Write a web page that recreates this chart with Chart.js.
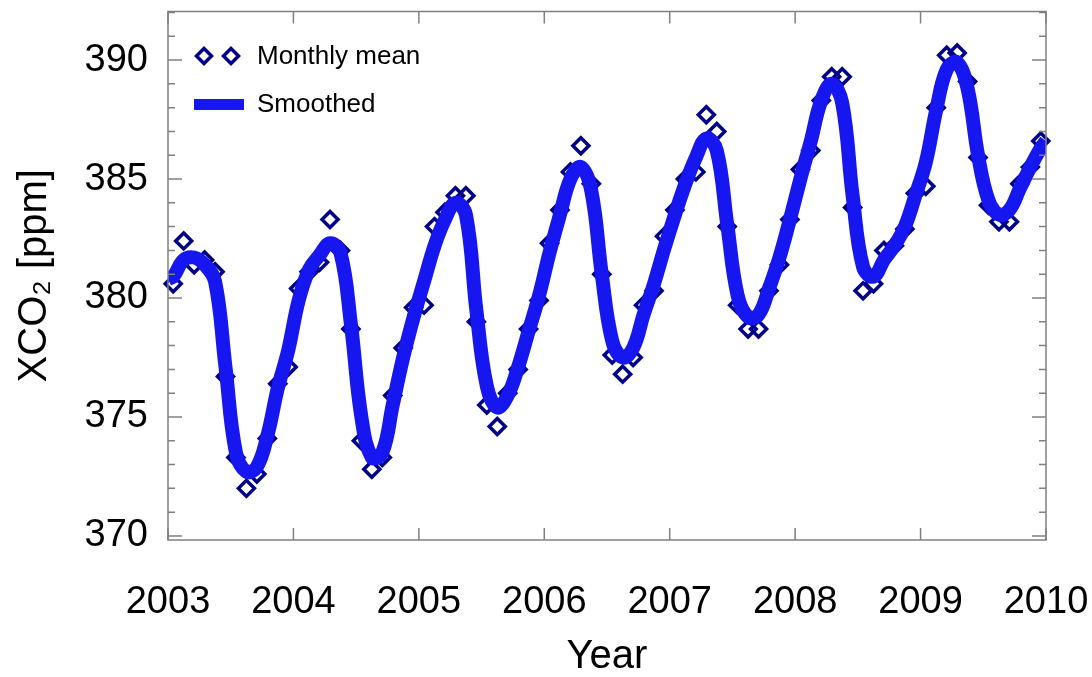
<!DOCTYPE html>
<html>
<head>
<meta charset="utf-8">
<script src="https://cdn.jsdelivr.net/npm/chart.js@4.4.0/dist/chart.umd.min.js"></script>
<style>
  html, body { margin: 0; padding: 0; background: #fff; }
  #wrap { width: 1092px; height: 677px; }
</style>
</head>
<body>
<div id="wrap"><canvas id="xco2Chart" width="1092" height="677"></canvas></div>
<script>
// Years covered, one value per month (Jan..Dec)
const years = [2003, 2004, 2005, 2006, 2007, 2008, 2009];
const xTicks = [2003, 2004, 2005, 2006, 2007, 2008, 2009, 2010];
const yTicks = [370, 375, 380, 385, 390];

// Monthly mean XCO2 [ppm]
const monthlyMean = [
  380.6, 382.4, 381.4, 381.6, 381.1, 376.7, 373.3, 372.0, 372.6, 374.1, 376.4, 377.1,
  380.4, 381.1, 381.5, 383.3, 382.0, 378.7, 374.0, 372.8, 373.3, 375.9, 377.9, 379.6,
  379.7, 383.0, 383.6, 384.3, 384.3, 379.0, 375.5, 374.6, 376.0, 377.0, 378.7, 379.9,
  382.3, 383.7, 385.3, 386.4, 384.8, 381.0, 377.6, 376.8, 377.5, 379.7, 380.3, 382.6,
  383.7, 385.0, 385.3, 387.7, 387.0, 383.0, 379.7, 378.7, 378.7, 380.3, 381.4, 383.3,
  385.4, 386.2, 388.3, 389.3, 389.3, 383.8, 380.3, 380.6, 382.0, 382.2, 382.9, 384.4,
  384.7, 388.0, 390.2, 390.3, 389.1, 385.9, 383.9, 383.2, 383.2, 384.8, 385.5, 386.6
];

// Smoothed curve read at the same months, plus its two ends
const smoothedMonthly = [
  380.9, 381.6, 381.7, 381.4, 380.7, 377.1, 373.5, 372.7, 372.9, 374.2, 376.2, 377.8,
  379.9, 381.2, 381.8, 382.3, 381.9, 378.9, 375.0, 373.3, 373.5, 375.5, 377.5, 379.2,
  380.7, 382.2, 383.3, 384.0, 383.5, 379.5, 376.3, 375.4, 375.9, 377.1, 378.6, 380.1,
  381.9, 383.5, 385.0, 385.5, 384.5, 381.0, 378.2, 377.5, 377.9, 379.3, 380.6, 382.1,
  383.5, 384.8, 385.9, 386.7, 386.2, 383.1, 380.1, 379.2, 379.3, 380.4, 381.7, 383.3,
  385.0, 386.6, 388.3, 389.0, 388.2, 384.3, 381.3, 380.9, 381.6, 382.2, 383.0, 384.3,
  385.7, 387.9, 389.6, 389.9, 388.8, 386.0, 384.1, 383.5, 383.7, 384.6, 385.5, 386.3
];
const smoothedStart = 380.8; // at 2003.0
const smoothedEnd = 386.6;   // at 2010.0

const fontFamily = "'Liberation Sans', Arial, Helvetica, sans-serif";
const diamondColor = '#000088';
const lineColor = '#1616F0';
const frameColor = '#808080';

// month mid-points as decimal years
const monthTimes = [];
years.forEach(y => {
  for (let m = 0; m < 12; m++) monthTimes.push(y + (m + 0.5) / 12);
});

const meanPoints = monthlyMean.map((v, i) => ({ x: monthTimes[i], y: v }));
const smoothPoints = [{ x: xTicks[0], y: smoothedStart }]
  .concat(smoothedMonthly.map((v, i) => ({ x: monthTimes[i], y: v })))
  .concat([{ x: xTicks[xTicks.length - 1], y: smoothedEnd }]);

function drawDiamond(ctx, x, y, r) {
  ctx.beginPath();
  ctx.moveTo(x, y - r);
  ctx.lineTo(x + r, y);
  ctx.lineTo(x, y + r);
  ctx.lineTo(x - r, y);
  ctx.closePath();
  ctx.stroke();
}

// frame, inward ticks and the legend inside the plot
const framePlugin = {
  id: 'frame',
  afterDraw(chart) {
    const ctx = chart.ctx;
    const area = chart.chartArea;
    const xs = chart.scales.x;
    const ys = chart.scales.y;
    ctx.save();
    ctx.strokeStyle = frameColor;
    ctx.lineWidth = 1.5;
    ctx.strokeRect(area.left, area.top, area.right - area.left, area.bottom - area.top);

    ctx.beginPath();
    xTicks.forEach(t => {
      const px = xs.getPixelForValue(t);
      ctx.moveTo(px, area.bottom); ctx.lineTo(px, area.bottom - 12);
      ctx.moveTo(px, area.top); ctx.lineTo(px, area.top + 12);
    });
    for (let v = Math.ceil(ys.min); v <= ys.max; v++) {
      const py = ys.getPixelForValue(v);
      const len = v % 5 === 0 ? 14 : 7;
      ctx.moveTo(area.left, py); ctx.lineTo(area.left + len, py);
      ctx.moveTo(area.right, py); ctx.lineTo(area.right - len, py);
    }
    ctx.stroke();

    // legend
    const ds = chart.data.datasets;
    ctx.font = '26px ' + fontFamily;
    ctx.fillStyle = '#000';
    ctx.textBaseline = 'middle';
    ctx.strokeStyle = diamondColor;
    ctx.lineWidth = 3.5;
    drawDiamond(ctx, 204, 56, 7.5);
    drawDiamond(ctx, 231, 56, 7.5);
    ctx.fillText(ds[0].label, 257, 57);
    ctx.fillStyle = lineColor;
    ctx.fillRect(194, 99, 50, 11);
    ctx.fillStyle = '#000';
    ctx.fillText(ds[1].label, 257, 105);
    ctx.restore();
  }
};

new Chart(document.getElementById('xco2Chart'), {
  type: 'scatter',
  data: {
    datasets: [{
      label: 'Monthly mean',
      data: meanPoints,
      pointStyle: 'rectRot',
      pointRadius: 8,
      pointBorderWidth: 3.5,
      borderColor: diamondColor,
      backgroundColor: 'rgba(255,255,255,0)',
      showLine: false,
      clip: false,
      order: 1
    }, {
      label: 'Smoothed',
      data: smoothPoints,
      showLine: true,
      borderColor: lineColor,
      borderWidth: 14,
      pointRadius: 0,
      tension: 0.4,
      borderCapStyle: 'butt',
      borderJoinStyle: 'round',
      order: 0
    }]
  },
  options: {
    responsive: false,
    animation: false,
    devicePixelRatio: 1,
    layout: { padding: { top: 7, right: 46, left: 0, bottom: 0 } },
    plugins: {
      legend: { display: false },
      tooltip: { enabled: false }
    },
    scales: {
      x: {
        type: 'linear',
        min: 2003,
        max: 2010,
        grid: { display: false, drawTicks: false },
        border: { display: false },
        afterBuildTicks: s => { s.ticks = xTicks.map(v => ({ value: v })); },
        afterFit: s => {
          s.height = 137;
          s.paddingLeft = 0;
          s.paddingRight = 0;
        },
        ticks: {
          padding: 40,
          maxRotation: 0,
          color: '#000',
          font: { family: fontFamily, size: 38 },
          callback: v => String(v)
        },
        title: {
          display: true,
          text: 'Year',
          color: '#000',
          font: { family: fontFamily, size: 40, lineHeight: 1 },
          padding: { top: 0, bottom: 0 }
        }
      },
      y: {
        min: 369.83,
        max: 392.04,
        grid: { display: false, drawTicks: false },
        border: { display: false },
        afterBuildTicks: s => { s.ticks = yTicks.map(v => ({ value: v })); },
        afterFit: s => {
          s.width = 168;
          s.paddingTop = 0;
          s.paddingBottom = 0;
        },
        ticks: {
          padding: 20,
          color: '#000',
          font: { family: fontFamily, size: 38 },
          callback: v => String(v)
        },
        title: {
          display: true,
          text: 'XCO₂ [ppm]',
          color: '#000',
          font: { family: fontFamily, size: 40, lineHeight: 1 },
          padding: { top: 15, bottom: 0 }
        }
      }
    }
  },
  plugins: [framePlugin]
});
</script>
</body>
</html>
